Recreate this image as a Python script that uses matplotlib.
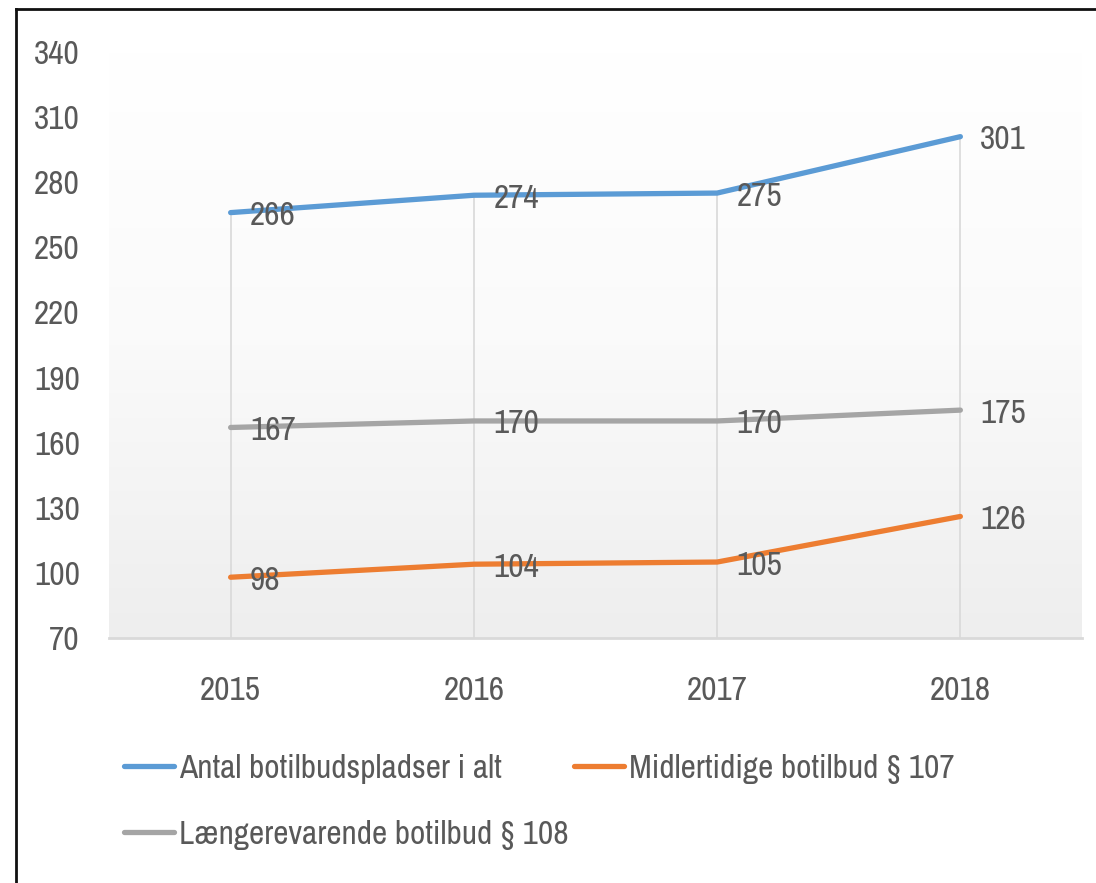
import numpy as np
import matplotlib
matplotlib.use("Agg")
import matplotlib.pyplot as plt
from matplotlib.lines import Line2D
from matplotlib.colors import LinearSegmentedColormap

years = ["2015", "2016", "2017", "2018"]
antal = [266, 274, 275, 301]
midlertidige = [98, 104, 105, 126]
laengere = [167, 170, 170, 175]
series_names = ["Antal botilbudspladser i alt",
                "Midlertidige botilbud § 107",
                "Længerevarende botilbud § 108"]
yticks = [70, 100, 130, 160, 190, 220, 250, 280, 310, 340]

FONT = ["Archivo Narrow", "DejaVu Sans"]
plt.rcParams["font.family"] = FONT
TXT = "#595959"

fig = plt.figure(figsize=(10.96, 8.83), dpi=100)
ax = fig.add_axes([109/1096, 1-638/883, (1082-109)/1096, (638-52)/883])

x = np.arange(len(years))
ax.set_xlim(-0.5, len(years)-0.5)
ax.set_ylim(yticks[0], yticks[-1])

# gradient background (light gray at bottom, white at top)
cmap = LinearSegmentedColormap.from_list("g", ["#eeeeee", "#fafafa", "#ffffff"])
grad = np.linspace(0, 1, 256).reshape(-1, 1)
ax.imshow(grad, aspect="auto", cmap=cmap, origin="lower",
          extent=[-0.5, len(years)-0.5, yticks[0], yticks[-1]], zorder=0)

# drop lines
tops = np.max([antal, midlertidige, laengere], axis=0)
ax.vlines(x, yticks[0], tops, color="#d9d9d9", lw=1.2, zorder=1)

colors = ["#5b9bd5", "#ed7d31", "#a5a5a5"]
handles = []
for vals, c, name in zip([antal, midlertidige, laengere], colors, series_names):
    h, = ax.plot(x, vals, color=c, lw=3.8, solid_capstyle="round", label=name, zorder=3)
    handles.append(h)
    for xi, v in zip(x, vals):
        ax.annotate(str(v), (xi, v), xytext=(14, -2.5), textcoords="offset points",
                    ha="left", va="center", fontsize=24, color=TXT, zorder=4)

for s in ["top", "right", "left"]:
    ax.spines[s].set_visible(False)
ax.spines["bottom"].set_color("#d9d9d9")
ax.spines["bottom"].set_linewidth(2)
ax.spines["bottom"].set_zorder(2)

ax.set_xticks(x)
ax.set_xticklabels(years)
ax.set_yticks(yticks)
ax.tick_params(axis="both", length=0, labelsize=24, labelcolor=TXT)
ax.tick_params(axis="y", pad=21)
ax.tick_params(axis="x", pad=27)

leg = fig.legend([handles[0], handles[2], handles[1]],
                 [series_names[0], series_names[2], series_names[1]],
                 ncol=2, loc="upper left", bbox_to_anchor=(124/1096, 1-754/883),
                 frameon=False, fontsize=24, handlelength=1.5, handletextpad=0.15,
                 columnspacing=0.15, labelspacing=1.08, borderpad=0, borderaxespad=0)
for t in leg.get_texts():
    t.set_color(TXT)

# frame (top and left only)
fig.add_artist(Line2D([16/1096, 16/1096], [0, 1-9/883], transform=fig.transFigure,
                      color="#111111", lw=2))
fig.add_artist(Line2D([16/1096, 1], [1-9/883, 1-9/883], transform=fig.transFigure,
                      color="#111111", lw=2))

fig.savefig("out.png", dpi=100)
